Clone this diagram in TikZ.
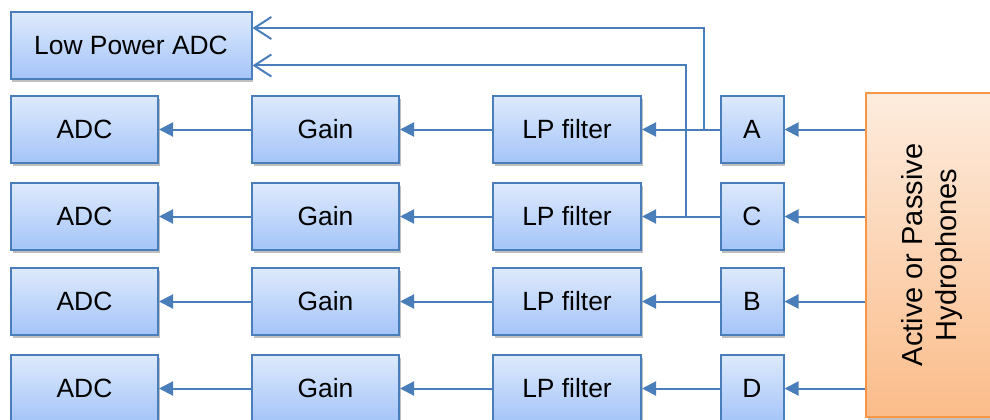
\documentclass[tikz,border=0pt]{standalone}
\usepackage{fontspec}
\setmainfont{Liberation Sans}
\usetikzlibrary{arrows.meta,shadows}
\definecolor{bline}{RGB}{74,126,187}
\definecolor{btop}{RGB}{222,234,252}
\definecolor{bbot}{RGB}{164,196,248}
\definecolor{otop}{RGB}{253,236,222}
\definecolor{obot}{RGB}{251,188,138}
\definecolor{oline}{RGB}{247,150,70}
\tikzset{
  blk/.style={draw=bline, line width=2pt, top color=btop, bottom color=bbot,
    minimum height=67pt, inner sep=0pt, font=\fontsize{26.4}{30}\selectfont,
    drop shadow={shadow xshift=1.5pt, shadow yshift=-2.5pt, opacity=0.25, fill=black}},
  hydbox/.style={draw=oline, line width=2pt, top color=otop, bottom color=obot,
    minimum width=134pt, minimum height=324pt, inner sep=0pt,
    drop shadow={shadow xshift=1.5pt, shadow yshift=-2.5pt, opacity=0.25, fill=black}},
  arr/.style={draw=bline, line width=2pt, -{Triangle[length=14pt,width=14pt]}},
  fb/.style={draw=bline, line width=2pt, -{Straight Barb[length=17pt,width=22pt,line width=2pt]}},
}
\begin{document}
\begin{tikzpicture}[x=1pt,y=-1pt]
\useasboundingbox (0,0) rectangle (990,420);
\begin{scope}
\clip (0,0) rectangle (990,420);
\node[blk, minimum width=241pt] (lpadc) at (131,45.5) {Low Power ADC};
\foreach \r/\y/\ch in {1/129.5/A, 2/216.5/C, 3/301.5/B, 4/388.5/D}{
  \node[blk, minimum width=147pt] (adc\r) at (84.5,\y) {ADC};
  \node[blk, minimum width=147pt] (gain\r) at (325.5,\y) {Gain};
  \node[blk, minimum width=148pt] (lp\r) at (567,\y) {LP filter};
  \node[blk, minimum width=63pt] (ch\r) at (752,\y) {\ch};
}
\node[hydbox] (hyd) at (933,255) {};
\node[rotate=90, align=center, font=\fontsize{29}{34}\selectfont] (hydtxt) at (932,255) {Active or Passive\\Hydrophones};
\foreach \r in {1,2,3,4}{
  \draw[arr] (hyd.west |- ch\r) -- (ch\r.east);
  \draw[arr] (ch\r.west) -- (lp\r.east);
  \draw[arr] (lp\r.west) -- (gain\r.east);
  \draw[arr] (gain\r.west) -- (adc\r.east);
}
\coordinate (jA) at (704,129.5);
\coordinate (jC) at (686,216.5);
\draw[fb] (jA) |- ([yshift=17.5pt]lpadc.east);
\draw[fb] (jC) |- ([yshift=-20pt]lpadc.east);
\end{scope}
\end{tikzpicture}
\end{document}
